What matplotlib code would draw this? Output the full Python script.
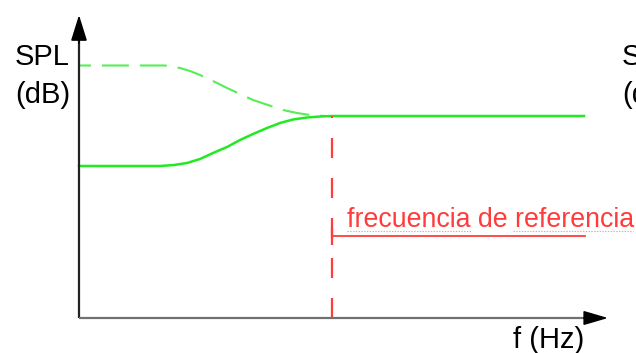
import matplotlib.pyplot as plt

plt.rcParams['font.family'] = ['Liberation Sans', 'DejaVu Sans']
plt.rcParams['lines.scale_dashes'] = False

# frecuencia (unidades relativas) y SPL (dB relativos)
f_resp = [0, 8.1, 9.5, 10.8, 12.1, 13.4, 14.8, 16.1, 17.4, 18.8, 20.1, 21.4, 22.8, 24.1, 25.3, 50.5]
spl_resp = [15.2, 15.2, 15.3, 15.5, 15.9, 16.5, 17.1, 17.8, 18.4, 19.0, 19.5, 19.85, 20.05, 20.15, 20.2, 20.2]

f_pond = [0, 8.6, 10.1, 11.1, 12.1, 13.4, 14.8, 16.1, 17.4, 18.9, 20.4, 21.8, 23.1, 24.6]
spl_pond = [25.25, 25.25, 25.0, 24.7, 24.3, 23.7, 23.0, 22.4, 21.8, 21.3, 20.8, 20.5, 20.3, 20.2]

f_ref = 25.3
spl_ref = 20.2
f_max = 50.6
marca_ref = 8.25
texto_ref = 'frecuencia de referencia'
subrayado = [(26.8, 39.3), (43.4, 55.4)]

verde = '#22ea22'
verde_claro = '#55ee55'
rojo = '#ff3b3b'

fig = plt.figure(figsize=(6.36, 3.53), dpi=100)
ax = fig.add_axes([0, 0, 1, 1])
ax.set_xlim(-7.9, 55.7)
ax.set_ylim(-3.5, 31.8)
ax.axis('off')

# ejes con flechas
ax.plot([0, 0], [0, 29], color='#222222', lw=1.6, solid_capstyle='butt', zorder=3)
ax.plot([0, 51.5], [0, 0], color='#707070', lw=1.6, solid_capstyle='butt', zorder=3)
ax.annotate('', xy=(0, 30.3), xytext=(0, 27.5),
            arrowprops=dict(arrowstyle='-|>,head_length=0.8,head_width=0.25', mutation_scale=20,
                            color='black', lw=1.2, shrinkA=0, shrinkB=0), zorder=4)
ax.annotate('', xy=(52.9, 0), xytext=(50.5, 0),
            arrowprops=dict(arrowstyle='-|>,head_length=0.75,head_width=0.22', mutation_scale=20,
                            color='black', lw=1.2, shrinkA=0, shrinkB=0), zorder=4)

# curvas
ax.plot(f_pond, spl_pond, color=verde_claro, lw=1.5, linestyle=(10.8, (19.4, 7.9)))
ax.plot(f_resp, spl_resp, color=verde, lw=1.8, solid_joinstyle='round')

# frecuencia de referencia
ax.plot([f_ref, f_ref], [0, spl_ref], color=rojo, lw=1.6, linestyle=(0, (14.4, 14.4)), zorder=2)
ax.plot([f_ref, f_max], [marca_ref, marca_ref], color=rojo, lw=1.3)
ax.plot([f_ref], [marca_ref], marker='|', markersize=13, mew=1.6, color=rojo)
for x0, x1 in subrayado:
    ax.plot([x0, x1], [marca_ref + 0.45, marca_ref + 0.45], color='#ff9a9a', lw=0.8, linestyle=(0, (1, 1)))
ax.text(26.8, 9.1, texto_ref, color=rojo, fontsize=19.3, ha='left', va='baseline')

# etiquetas
ax.text(-6.4, 25.3, 'SPL', fontsize=21, ha='left', va='baseline')
ax.text(-6.4, 21.5, '(dB)', fontsize=21, ha='left', va='baseline')
ax.text(54.3, 25.3, 'SPL', fontsize=21, ha='left', va='baseline')
ax.text(54.3, 21.5, '(dB)', fontsize=21, ha='left', va='baseline')
ax.text(43.4, -3.0, 'f (Hz)', fontsize=21, ha='left', va='baseline')

fig.savefig('out.png', dpi=100)
